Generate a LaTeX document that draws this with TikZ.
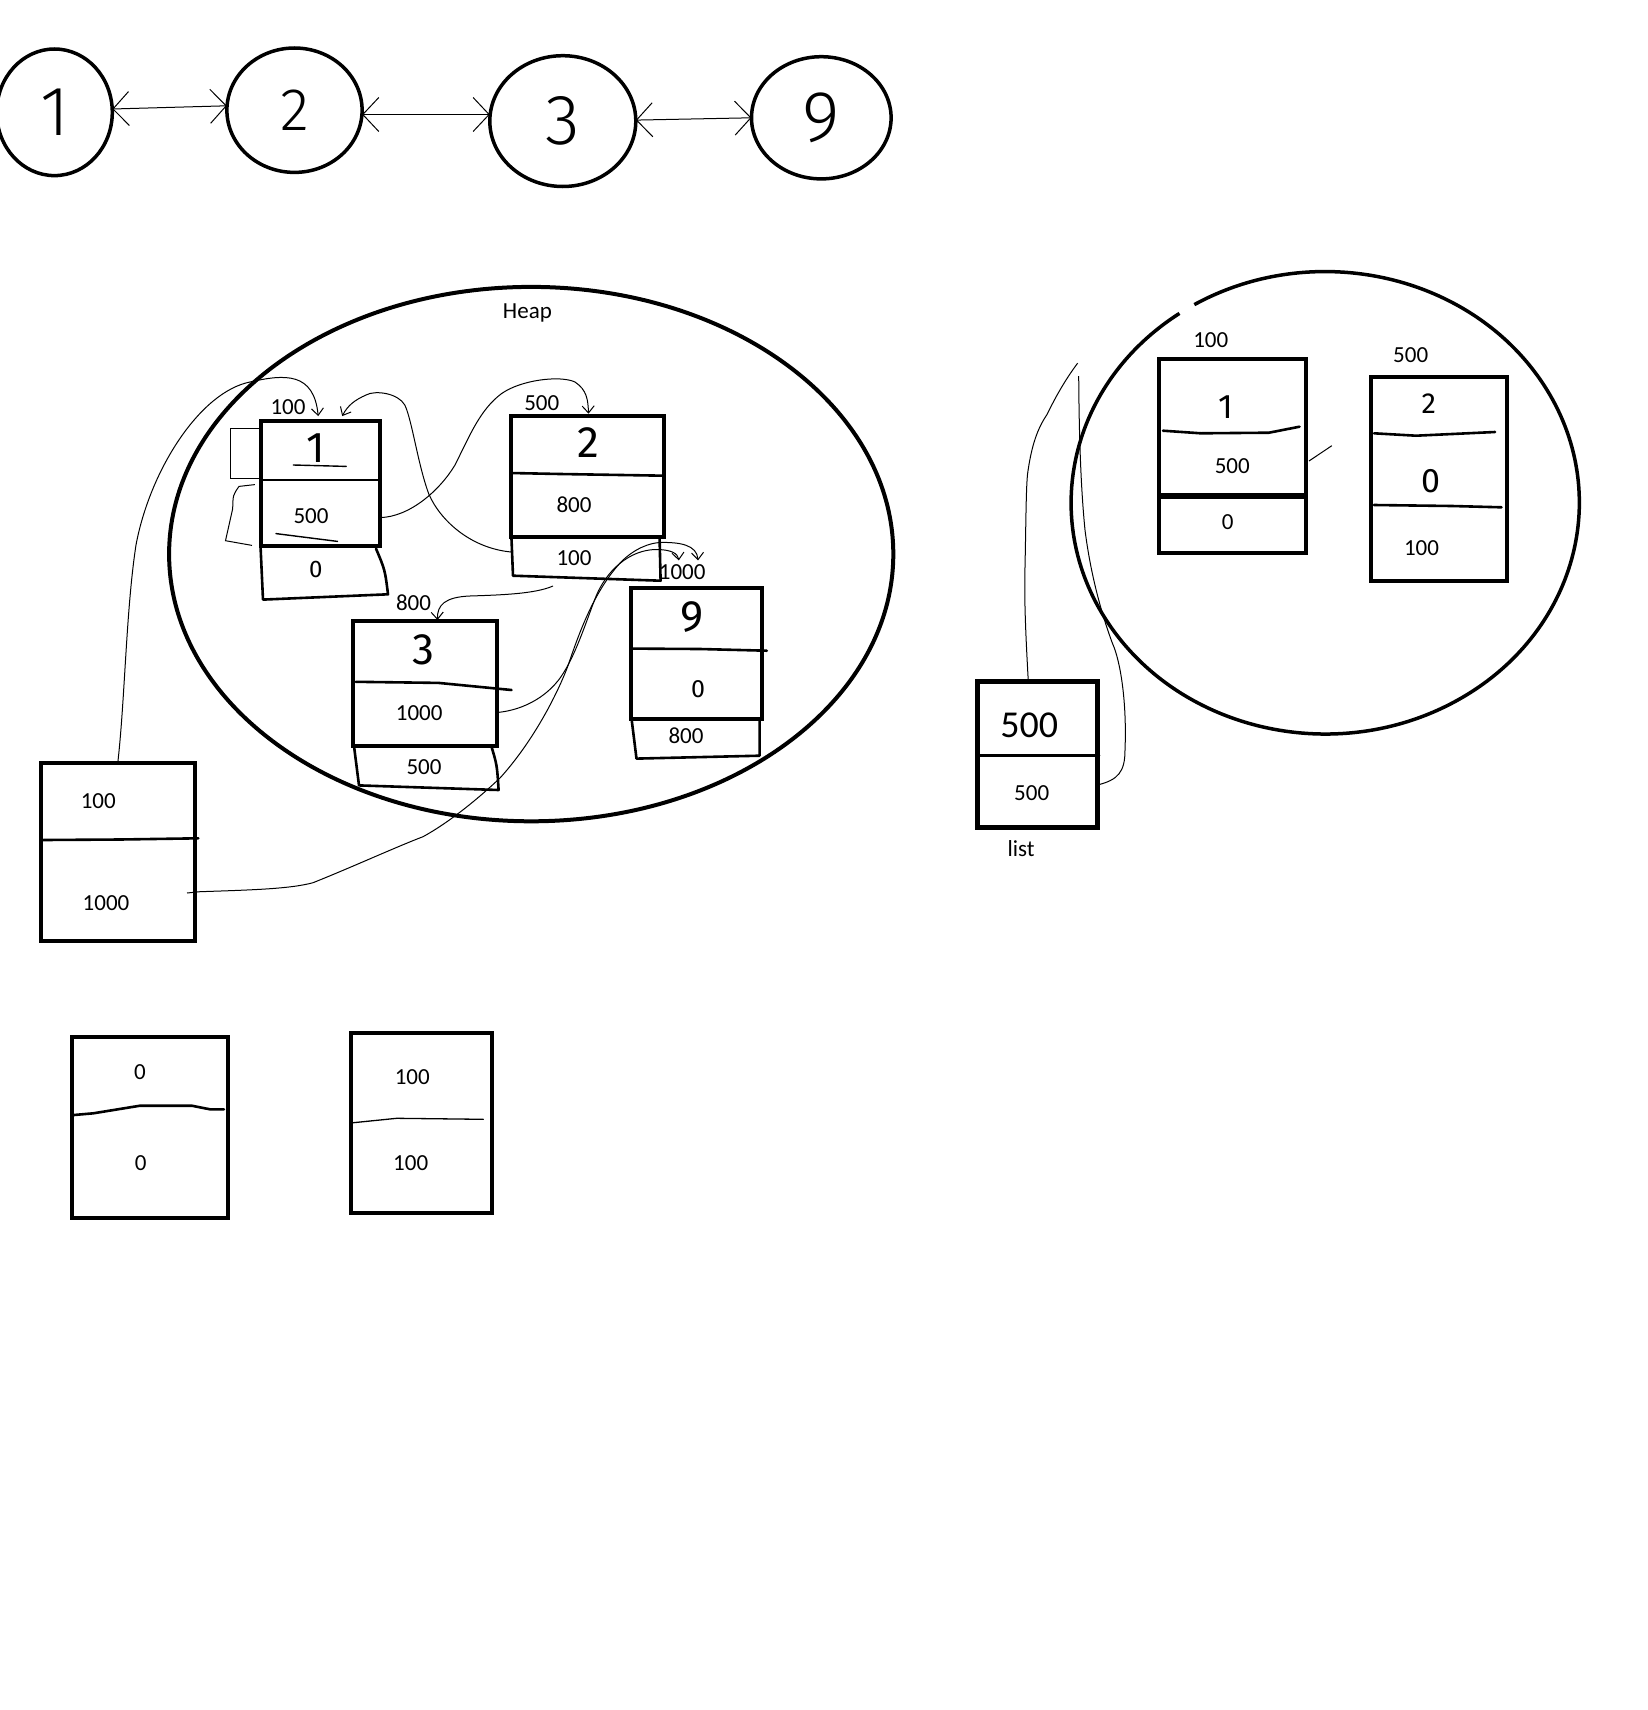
\documentclass[tikz,border=0pt]{standalone}
\usepackage{fontspec}
\setmainfont{Carlito}
\newfontfamily\hand{Fira Sans Light}
\newfontfamily\handb{Fira Sans}
\usetikzlibrary{arrows.meta,shapes.geometric}

\begin{document}
\begin{tikzpicture}[x=1pt,y=-1pt,
  every node/.style={inner sep=0pt, outer sep=0pt},
  lbl/.style={font=\fontsize{23}{27}\selectfont},
  biglbl/.style={font=\fontsize{38}{42}\selectfont},
  digit/.style={font=\hand\fontsize{#1}{#1}\selectfont},
  digitb/.style={font=\handb\fontsize{#1}{#1}\selectfont},
  bubble/.style={draw, ellipse, line width=3.5pt},
  frame/.style={draw, rectangle, line width=4pt},
  part/.style={line width=2.6pt, line join=round, line cap=round},
  wire/.style={line width=1pt},
  ptr/.style={wire, -{Straight Barb[length=7pt,width=12pt]}},
  link/.style={line width=1pt,
    {Straight Barb[length=16pt,width=34pt]}-{Straight Barb[length=16pt,width=34pt]}},
]
\useasboundingbox (0,0) rectangle (1648,1710);

% ---------- doubly linked list in the top row ----------
\node[bubble, minimum width=115.6pt, minimum height=126.6pt, digit=70] (c1) at (54.5,112.3) {1};
\node[bubble, minimum width=135.2pt, minimum height=124.4pt, digit=60] (c2) at (294.5,110.2) {2};
\node[bubble, minimum width=146pt,   minimum height=130.8pt, digit=71] (c3) at (562.8,121.1) {3};
\node[bubble, minimum width=139.6pt, minimum height=122.2pt, digit=72] (c9) at (821.3,117.8) {9};
\draw[link] ([yshift=3.3pt]c1.east) -- ([yshift=4.4pt]c2.west);
\draw[link] ([yshift=-4.3pt]c2.east) -- ([yshift=6.6pt]c3.west);
\draw[link] ([yshift=1pt]c3.east) -- (c9.west);

% ---------- heap ----------
\node[bubble, line width=4pt, minimum width=724.2pt, minimum height=534.4pt] (heap) at (531.2,554.1) {};
\node[lbl] (heaplbl) at (527.4,312.9) {Heap};

% node holding 1 (address 100)
\node[frame, minimum width=119.2pt, minimum height=125pt] (n1) at (320.2,483.6) {};
\draw[part] (260.6,480) -- (379.8,480);
\node[digitb=43] (n1v) at (315.9,447.9) {1};
\draw[part, line width=1.4pt] (293.3,465) -- (346.2,466.4);
\node[lbl] (n1n) at (311,516.4) {500};
\draw[part, line width=1.4pt] (276,533.6) -- (337.5,541.4);
\draw[part] (260.6,547.9) -- (263,599.6) -- (388,594.3) .. controls (385,570) .. (376,548.6);
\node[digitb=24] (n1p) at (315.9,569.3) {0};
\node[lbl] (a1) at (288,407.5) {100};

% node holding 2 (address 500)
\node[frame, minimum width=153.8pt, minimum height=121.4pt] (n2) at (587.5,476.4) {};
\draw[part] (510.6,473) -- (560,474) -- (664.4,475.7);
\node[digitb=44] (n2v) at (588.5,442.5) {2};
\node[lbl] (n2n) at (574,505) {800};
\draw[part] (511.5,539) -- (513,575.7) -- (660.6,580.7) -- (659.6,539);
\node[lbl] (n2p) at (574,558.6) {100};
\node[lbl] (a2) at (541.8,403.2) {500};

% node holding 3 (address 800)
\node[frame, minimum width=144.2pt, minimum height=125pt] (n3) at (425,683.5) {};
\draw[part] (355.8,681.8) -- (438.5,682.9) -- (511.5,690);
\node[digitb=44] (n3v) at (423,649.6) {3};
\node[lbl] (n3n) at (419.2,712.9) {1000};
\draw[part] (354,746) -- (359,785.4) -- (498.6,790) .. controls (497,765) .. (491.3,746);
\node[lbl] (n3p) at (424,767.5) {500};
\node[lbl] (a3) at (413.5,603.2) {800};

% node holding 9 (address 1000)
\node[frame, minimum width=130.7pt, minimum height=130.7pt] (n9) at (696.2,653.3) {};
\draw[part] (632,648.6) -- (700,649) -- (766.8,650.7);
\node[digitb=44] (n9v) at (692.3,617.5) {9};
\node[digitb=25] (n9n) at (698,689) {0};
\draw[part] (631.7,720) -- (636.5,758.6) -- (759.6,755.7) -- (759.6,720);
\node[lbl] (n9p) at (686,735.4) {800};
\node[lbl] (a9) at (682.2,572) {1000};

% ---------- list variable outside the heap ----------
\node[frame, minimum width=154.5pt, minimum height=178pt] (lb) at (117.75,852) {};
\draw[part] (43.3,840) -- (120,839.5) -- (198.3,838.3);
\node[lbl] (lbh) at (98.3,801) {100};
\node[lbl] (lbt) at (106,902.7) {1000};
\coordinate (lbo) at (187,893);

% two more boxes at the bottom
\node[frame, minimum width=156pt, minimum height=181pt] (bb1) at (149.7,1127.2) {};
\draw[part] (74,1115) -- (93.3,1113.3) -- (140,1105.7) -- (191.7,1105.7) -- (210,1109.3) -- (224,1109.3);
\node[lbl] (bb1a) at (140,1071.7) {0};
\node[lbl] (bb1b) at (140.7,1162.7) {0};

\node[frame, minimum width=141pt, minimum height=180pt] (bb2) at (421.2,1123.3) {};
\draw[part, line width=1.3pt] (353.3,1122.7) -- (396.7,1118.3) -- (483.3,1119.3);
\node[lbl] (bb2a) at (412.3,1076.7) {100};
\node[lbl] (bb2b) at (410.7,1162.7) {100};

% ---------- pointers inside the heap ----------
% self references of the first node
\draw[wire] (260.6,428) -- (230.8,428) -- (230.8,478) -- (260.6,478);
\draw[wire] (254.8,484.6) -- (239,486.4) .. controls (233,495) .. (232.7,508.6) -- (225.5,540.7) -- (252,545.4);
% head pointer to node 1
\draw[ptr] (lb.north) .. controls (125,700) and (126,610) .. (136,545)
  .. controls (150,470) and (200,392) .. (250,382)
  .. controls (285,374) and (314,372) .. ([xshift=-2pt,yshift=5pt]n1.north);
% prev of node 2 back to node 1
\coordinate (n2xw) at (511,552);
\draw[ptr] (n2xw) .. controls (470,548) and (440,520) .. (428.8,494)
  .. controls (418,465) and (412,420) .. (404.8,405)
  .. controls (398,393) and (375,390) .. (366,395)
  .. controls (355,400) and (348,405) .. ([xshift=22pt,yshift=5pt]n1.north);
% next of node 1 to node 2
\draw[ptr] ([yshift=-34pt]n1.east) .. controls (410,517) and (440,490) .. (455,465)
  .. controls (470,435) and (480,410) .. (501,394)
  .. controls (520,380) and (560,375) .. (575,382)
  .. controls (587,390) and (588,400) .. ([xshift=1pt,yshift=2pt]n2.north);
% next of node 2 to node 3
\coordinate (n2xs) at (553,586);
\draw[ptr] (n2xs) .. controls (535,594) and (500,595) .. (470,596)
  .. controls (445,597) and (437,605) .. ([xshift=12.5pt,yshift=1pt]n3.north);
% next of node 3 to node 9
\coordinate (t9a) at (678.8,560.4);
\draw[ptr] ([yshift=-29pt]n3.east) .. controls (525,710) and (550,695) .. (563.5,672.9)
  .. controls (578,650) and (590,610) .. (597,594)
  .. controls (610,565) and (635,548) .. (659.6,549.6)
  .. controls (670,550) and (678,553) .. (t9a);
% tail pointer to node 9
\coordinate (t9b) at (698,560.4);
\draw[ptr] (lbo) -- (200,891.7) .. controls (250,890) and (290,889) .. (313,882.7)
  .. controls (350,868) and (396,847) .. (423,836.7)
  .. controls (450,822) and (480,797) .. (500,778)
  .. controls (530,745) and (555,700) .. (568,665.7)
  .. controls (580,630) and (595,590) .. (621,562)
  .. controls (635,548) and (650,543) .. (660,542.5)
  .. controls (680,542) and (697,545) .. (t9b);

% ---------- second heap ----------
\coordinate (rh) at (1325.2,502.8);
\draw[line width=3.5pt] (rh) ++(239:254.1 and 231.2)
  arc[start angle=239, end angle=595, x radius=254.1, y radius=231.2];

\node[frame, minimum width=146.1pt, minimum height=136pt] (r1) at (1232.5,427) {};
\node[frame, minimum width=146.1pt, minimum height=55.4pt] (r1b) at (1232.5,525) {};
\draw[part] (1163,430.7) -- (1200.8,433.3) -- (1269,432.7) -- (1299.5,426.7);
\node[digitb=34] (r1v) at (1225.9,406.7) {1};
\node[lbl] (r1n) at (1232.3,465.7) {500};
\node[lbl] (r1p) at (1227.7,521.7) {0};
\node[lbl] (ra1) at (1210.8,340) {100};

\node[frame, minimum width=135.3pt, minimum height=204.3pt] (r2) at (1439,478.9) {};
\draw[part] (1374,433.3) -- (1416,435.7) -- (1495,432);
\draw[part] (1374,505) -- (1452,506) -- (1501.5,507.3);
\node[digitb=29] (r2v) at (1428.7,403.3) {2};
\node[digitb=34] (r2n) at (1430.5,481) {0};
\node[lbl] (r2p) at (1421.5,548.3) {100};
\node[lbl] (ra2) at (1410.7,355) {500};
\draw[wire] (1309,461) -- (1331.8,445.7);

% list variable of the second heap
\node[frame, line width=4.5pt, minimum width=120pt, minimum height=145.6pt] (lst) at (1037.3,754.5) {};
\draw[part] (977.3,755.7) -- (1099,755.7);
\node[biglbl] (lsth) at (1029.3,725) {500};
\node[lbl] (lstt) at (1031.7,792.7) {500};
\node[lbl] (lstname) at (1021,848.3) {list};
\coordinate (g1) at (1077.6,363.2);
\coordinate (h1) at (1078.7,376);
\draw[wire] ([xshift=-9pt]lst.north) .. controls (1026,640) and (1024,600) .. (1025,567)
  .. controls (1026,520) and (1026,490) .. (1027.5,474.5)
  .. controls (1032,440) and (1040,425) .. (1047,414.5)
  .. controls (1055,398) and (1065,380) .. (g1);
\draw[wire] ([yshift=-30.5pt]lst.east) .. controls (1118,780) and (1125,772) .. (1125,750)
  .. controls (1127,700) and (1120,660) .. (1112.5,643.5)
  .. controls (1100,610) and (1090,570) .. (1085,530)
  .. controls (1080,480) and (1079,420) .. (h1);
\end{tikzpicture}
\end{document}
